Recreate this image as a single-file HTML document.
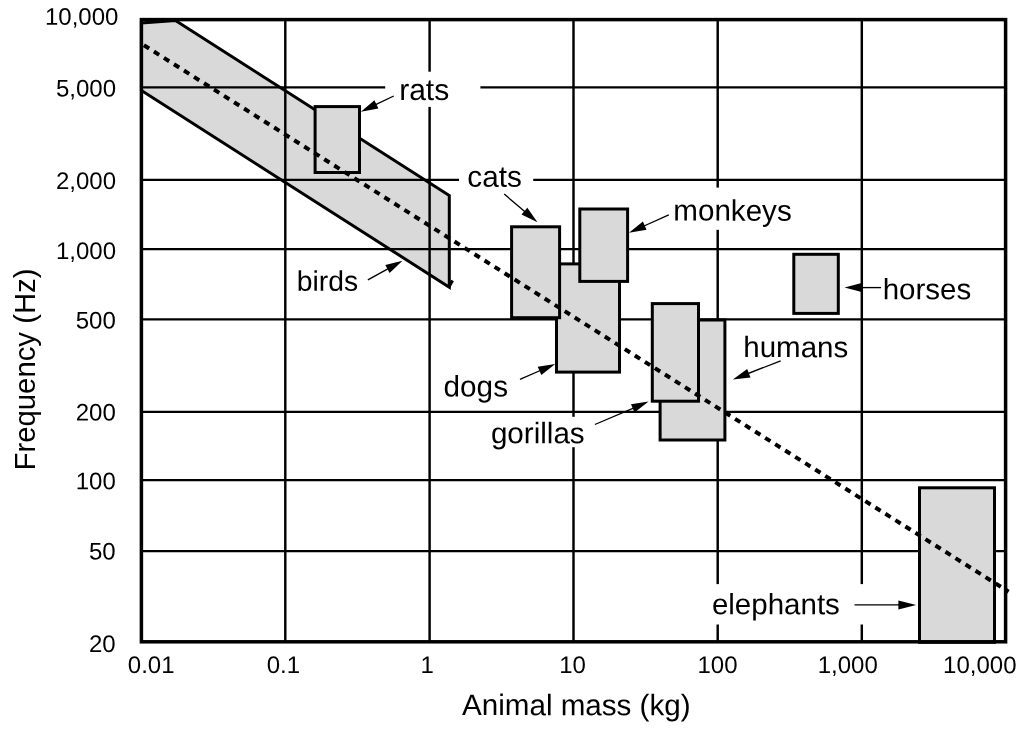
<!DOCTYPE html>
<html lang="en">
<head>
<meta charset="utf-8">
<title>Animal mass vs frequency</title>
<style>
html,body{margin:0;padding:0;background:#fff;}
body{width:1024px;height:731px;overflow:hidden;}
svg{display:block;}
svg text{font-family:"Liberation Sans", Arial, Helvetica, sans-serif;fill:#000;}
</style>
</head>
<body>
<svg width="1024" height="731" viewBox="0 0 1024 731">
<rect x="0" y="0" width="1024" height="731" fill="#fff"/>
<polygon points="141.4,90.5 141.4,23.0 175.5,20.5 449.3,195.6 449.3,287.2" fill="#d9d9d9" stroke="#000" stroke-width="3" stroke-linejoin="miter"/>
<line x1="448.6" y1="287.6" x2="452.6" y2="280.6" stroke="#000" stroke-width="3"/>
<line x1="285.3" y1="19.6" x2="285.3" y2="641.8" stroke="#000" stroke-width="2.45"/>
<line x1="429.6" y1="19.6" x2="429.6" y2="641.8" stroke="#000" stroke-width="2.45"/>
<line x1="573.5" y1="19.6" x2="573.5" y2="641.8" stroke="#000" stroke-width="2.45"/>
<line x1="717.7" y1="19.6" x2="717.7" y2="641.8" stroke="#000" stroke-width="2.45"/>
<line x1="861.8" y1="19.6" x2="861.8" y2="641.8" stroke="#000" stroke-width="2.45"/>
<line x1="141.4" y1="87.25" x2="1005.6" y2="87.25" stroke="#000" stroke-width="2.25"/>
<line x1="141.4" y1="179.9" x2="1005.6" y2="179.9" stroke="#000" stroke-width="2.25"/>
<line x1="141.4" y1="249.2" x2="1005.6" y2="249.2" stroke="#000" stroke-width="2.25"/>
<line x1="141.4" y1="319.4" x2="1005.6" y2="319.4" stroke="#000" stroke-width="2.25"/>
<line x1="141.4" y1="411.8" x2="1005.6" y2="411.8" stroke="#000" stroke-width="2.25"/>
<line x1="141.4" y1="480.0" x2="1005.6" y2="480.0" stroke="#000" stroke-width="2.25"/>
<line x1="141.4" y1="551.1" x2="1005.6" y2="551.1" stroke="#000" stroke-width="2.25"/>
<rect x="385.2" y="71.7" width="95.2" height="35.2" fill="#fff"/>
<rect x="459.0" y="160.0" width="74.2" height="36.0" fill="#fff"/>
<rect x="668.0" y="187.6" width="132.0" height="42.2" fill="#fff"/>
<rect x="485.0" y="416.8" width="107.0" height="30.4" fill="#fff"/>
<rect x="705.0" y="584.1" width="163.0" height="40.4" fill="#fff"/>
<rect x="556.5" y="263.9" width="63.0" height="108.2" fill="#d9d9d9" stroke="#000" stroke-width="3"/>
<rect x="511.6" y="226.8" width="48.0" height="90.9" fill="#d9d9d9" stroke="#000" stroke-width="3"/>
<rect x="579.8" y="209.0" width="47.8" height="72.4" fill="#d9d9d9" stroke="#000" stroke-width="3"/>
<rect x="660.1" y="320.0" width="64.8" height="120.0" fill="#d9d9d9" stroke="#000" stroke-width="3"/>
<rect x="652.3" y="303.6" width="46.2" height="97.6" fill="#d9d9d9" stroke="#000" stroke-width="3"/>
<rect x="793.8" y="254.3" width="44.5" height="59.1" fill="#d9d9d9" stroke="#000" stroke-width="3"/>
<rect x="919.5" y="487.8" width="75.0" height="154.5" fill="#d9d9d9" stroke="#000" stroke-width="3"/>
<rect x="315.1" y="106.6" width="44.4" height="65.9" fill="#d9d9d9" stroke="#000" stroke-width="3"/>
<rect x="141.4" y="19.6" width="864.2" height="622.2" fill="none" stroke="#000" stroke-width="3.5"/>
<line x1="143.9" y1="45.22" x2="1008.6" y2="591.7" stroke="#000" stroke-width="4" stroke-dasharray="6.2 5.653"/>
<line x1="393.75" y1="96.0" x2="374.6" y2="105.2" stroke="#000" stroke-width="1.35"/>
<polygon points="360.9,111.8 374.4,100.3 378.4,108.4" fill="#000"/>
<line x1="504.2" y1="194.1" x2="525.9" y2="212.4" stroke="#000" stroke-width="1.35"/>
<polygon points="537.5,222.2 521.5,214.5 527.3,207.7" fill="#000"/>
<line x1="668.8" y1="214.9" x2="642.9" y2="226.5" stroke="#000" stroke-width="1.35"/>
<polygon points="629.0,232.7 642.9,221.6 646.5,229.8" fill="#000"/>
<line x1="367.9" y1="279.8" x2="389.2" y2="268.1" stroke="#000" stroke-width="1.35"/>
<polygon points="402.5,260.8 389.6,273.0 385.3,265.1" fill="#000"/>
<line x1="520.0" y1="379.3" x2="541.4" y2="370.0" stroke="#000" stroke-width="1.35"/>
<polygon points="555.3,363.9 541.3,374.9 537.7,366.7" fill="#000"/>
<line x1="594.9" y1="424.5" x2="634.6" y2="407.6" stroke="#000" stroke-width="1.35"/>
<polygon points="648.6,401.6 634.5,412.5 631.0,404.2" fill="#000"/>
<line x1="780.7" y1="360.8" x2="746.9" y2="374.0" stroke="#000" stroke-width="1.35"/>
<polygon points="732.8,379.6 747.2,369.1 750.5,377.5" fill="#000"/>
<line x1="881.1" y1="287.6" x2="859.7" y2="287.6" stroke="#000" stroke-width="1.35"/>
<polygon points="844.5,287.6 861.7,283.1 861.7,292.1" fill="#000"/>
<line x1="854.5" y1="604.9" x2="900.4" y2="604.9" stroke="#000" stroke-width="1.35"/>
<polygon points="916.2,604.9 898.4,609.4 898.4,600.4" fill="#000"/>
<text transform="translate(399.2,99.9) rotate(0.03)" font-size="30.0" text-anchor="start">rats</text>
<text transform="translate(467.3,186.7) rotate(0.03)" font-size="29.7" text-anchor="start">cats</text>
<text transform="translate(673.3,220.6) rotate(0.03)" font-size="29.6" text-anchor="start">monkeys</text>
<text transform="translate(296.8,290.8) rotate(0.03)" font-size="28.3" text-anchor="start">birds</text>
<text transform="translate(443.6,396.5) rotate(0.03)" font-size="29.7" text-anchor="start">dogs</text>
<text transform="translate(490.9,443.3) rotate(0.03)" font-size="29.6" text-anchor="start">gorillas</text>
<text transform="translate(743.3,357.1) rotate(0.03)" font-size="29.5" text-anchor="start">humans</text>
<text transform="translate(882.7,299.3) rotate(0.03)" font-size="29.5" text-anchor="start">horses</text>
<text transform="translate(711.9,614.2) rotate(0.03)" font-size="29.5" text-anchor="start">elephants</text>
<text transform="translate(462.0,715.1) rotate(0.03)" font-size="29.6" text-anchor="start">Animal mass (kg)</text>
<text transform="translate(35.2,470.5) rotate(-90)" font-size="29.6" textLength="202" lengthAdjust="spacingAndGlyphs">Frequency (Hz)</text>
<text transform="translate(118.4,24.8) rotate(0.03)" font-size="24" text-anchor="end">10,000</text>
<text transform="translate(116.0,96.6) rotate(0.03)" font-size="24" text-anchor="end">5,000</text>
<text transform="translate(116.0,189.0) rotate(0.03)" font-size="24" text-anchor="end">2,000</text>
<text transform="translate(116.0,259.0) rotate(0.03)" font-size="24" text-anchor="end">1,000</text>
<text transform="translate(115.8,328.4) rotate(0.03)" font-size="24" text-anchor="end">500</text>
<text transform="translate(115.8,420.6) rotate(0.03)" font-size="24" text-anchor="end">200</text>
<text transform="translate(115.8,489.2) rotate(0.03)" font-size="24" text-anchor="end">100</text>
<text transform="translate(115.6,559.4) rotate(0.03)" font-size="24" text-anchor="end">50</text>
<text transform="translate(115.6,651.9) rotate(0.03)" font-size="24" text-anchor="end">20</text>
<text transform="translate(127.8,673.1) rotate(0.03)" font-size="24" text-anchor="start">0.01</text>
<text transform="translate(266.7,673.1) rotate(0.03)" font-size="24" text-anchor="start">0.1</text>
<text transform="translate(420.6,673.1) rotate(0.03)" font-size="24" text-anchor="start">1</text>
<text transform="translate(559.2,673.1) rotate(0.03)" font-size="24" text-anchor="start">10</text>
<text transform="translate(697.5,673.1) rotate(0.03)" font-size="24" text-anchor="start">100</text>
<text transform="translate(817.7,673.1) rotate(0.03)" font-size="24" text-anchor="start">1,000</text>
<text transform="translate(943.1,673.1) rotate(0.03)" font-size="24" text-anchor="start">10,000</text>
</svg>
</body>
</html>
